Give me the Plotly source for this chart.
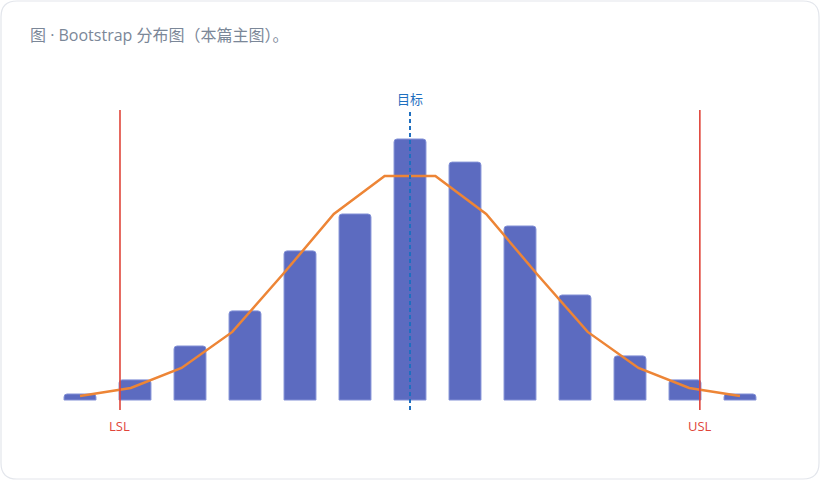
import plotly.graph_objects as go

# bootstrap 分布：柱 = 频数，折线 = 平滑密度
bins = list(range(13))
counts = [2, 6.7, 18, 29.7, 49.7, 62, 87, 79.3, 58, 35, 14.7, 6.7, 2]
curve_x = list(range(14))
curve_y = [1.3, 4, 10.7, 22.7, 42, 62, 74.7, 74.7, 62, 42, 22.7, 10.7, 4, 1.3]

lsl = 0.727
usl = 11.27
target = 6

W, H = 820, 480
FONT = "Open Sans, Noto Sans CJK SC, sans-serif"

fig = go.Figure()

fig.add_trace(go.Bar(
    x=bins, y=counts, width=0.58,
    marker=dict(color="#5c6bc0", line=dict(color="#8290d6", width=1)),
    hoverinfo="skip", showlegend=False,
))

fig.add_trace(go.Scatter(
    x=curve_x, y=curve_y, xaxis="x2", mode="lines",
    line=dict(color="#ed8536", width=2.5),
    hoverinfo="skip", showlegend=False,
))

# 规格线
for xv, txt in [(lsl, "LSL"), (usl, "USL")]:
    fig.add_shape(type="line", xref="x", yref="paper", x0=xv, x1=xv,
                  y0=70 / H, y1=370 / H, line=dict(color="#e0453a", width=1.6))
    fig.add_annotation(x=xv, xref="x", yref="paper", y=1 - 426 / H, yanchor="middle",
                       text=txt, showarrow=False,
                       font=dict(color="#e0453a", size=13, family=FONT))

fig.add_shape(type="line", xref="x", yref="paper", x0=target, x1=target,
              y0=70 / H, y1=370 / H, line=dict(color="#1f6fbf", width=2, dash="4px,3px"))
fig.add_annotation(x=target, xref="x", yref="paper", y=1 - 99 / H, yanchor="middle",
                   text="目标", showarrow=False,
                   font=dict(color="#1f6fbf", size=13, family=FONT))

# 卡片外框（像素坐标 -> paper）
r = 16
x0, x1, y0, y1 = 1, W - 1, 1, H - 1
path = (f"M {x0 + r} {y0} L {x1 - r} {y0} Q {x1} {y0} {x1} {y0 + r} "
        f"L {x1} {y1 - r} Q {x1} {y1} {x1 - r} {y1} L {x0 + r} {y1} "
        f"Q {x0} {y1} {x0} {y1 - r} L {x0} {y0 + r} Q {x0} {y0} {x0 + r} {y0} Z")
conv = []
is_x = True
for tok in path.split():
    if tok.isalpha():
        conv.append(tok)
        is_x = True
        continue
    v = float(tok)
    conv.append(f"{v / W:.5f}" if is_x else f"{1 - v / H:.5f}")
    is_x = not is_x
fig.add_shape(type="path", xref="paper", yref="paper", path=" ".join(conv),
              line=dict(color="#e3e6ec", width=1.2), layer="below")

fig.update_layout(
    width=W, height=H,
    margin=dict(l=0, r=0, t=0, b=0),
    paper_bgcolor="white", plot_bgcolor="white",
    barcornerradius=3,
    title=dict(text="图 · Bootstrap 分布图（本篇主图）。", x=30 / W, xanchor="left",
               y=1 - 35 / H, yanchor="middle",
               font=dict(size=16, color="#7b8798", family=FONT)),
    xaxis=dict(domain=[52.5 / W, 767.5 / W], range=[-0.5, 12.5],
               visible=False, fixedrange=True),
    xaxis2=dict(domain=[52.5 / W, 767.5 / W], range=[-0.5417, 13.5417],
                overlaying="x", visible=False, fixedrange=True),
    yaxis=dict(domain=[70 / H, 370 / H], range=[-10 / 3, 290 / 3],
               visible=False, fixedrange=True),
)

fig.write_html("out.html", config={"displayModeBar": False},
               post_script="document.body.style.margin='0';")
